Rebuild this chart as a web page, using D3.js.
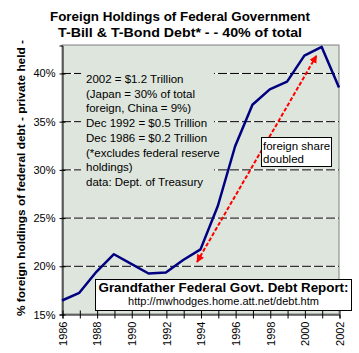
<!DOCTYPE html>
<html>
<head>
<meta charset="utf-8">
<script src="https://cdn.jsdelivr.net/npm/d3@7"></script>
<style>
  body { margin: 0; background: #fff; }
  text { font-family: "Liberation Sans", Arial, sans-serif; }
</style>
</head>
<body>
<div id="main"></div>
<script>
const ctx = {
    W: 359,
    H: 353,
    left: 62,
    right: 339,
    top: 45,
    bottom: 314,
};

// data
const years = [1986, 1987, 1988, 1989, 1990, 1991, 1992, 1993, 1994,
    1995, 1996, 1997, 1998, 1999, 2000, 2001, 2002];
const foreignShare = [16.4, 17.2, 19.4, 21.2, 20.2, 19.2, 19.3, 20.6, 21.7,
    26.2, 32.4, 36.7, 38.3, 39.1, 41.8, 42.7, 38.5];
const yTicks = [15, 20, 25, 30, 35, 40];
const xLabelYears = [1986, 1988, 1990, 1992, 1994, 1996, 1998, 2000, 2002];
// red "doubled" arrow, in data units [year, %]
const arrowTop = [2000.7, 41.8];
const arrowBottom = [1993.8, 20.4];

const titleLines = ["Foreign Holdings of Federal Government",
    "T-Bill & T-Bond Debt* - - 40% of total"];
const noteLines = ["2002 = $1.2 Trillion", "(Japan = 30% of total",
    "foreign, China = 9%)", "Dec 1992 = $0.5 Trillion",
    "Dec 1986 = $0.2 Trillion", "(*excludes federal reserve",
    "holdings)", "data: Dept. of Treasury"];

function createChart() {
    const svg = d3.select("#main").append("svg")
        .attr("width", ctx.W)
        .attr("height", ctx.H);

    const x = d3.scaleLinear().domain([1986, 2002]).range([ctx.left, ctx.right]);
    const y = d3.scaleLinear().domain([15, 42.9]).range([ctx.bottom, ctx.top]);

    const defs = svg.append("defs");
    defs.append("marker")
        .attr("id", "head")
        .attr("viewBox", "0 0 10 10")
        .attr("refX", 9).attr("refY", 5)
        .attr("markerWidth", 4).attr("markerHeight", 4)
        .attr("orient", "auto-start-reverse")
        .append("path")
        .attr("d", "M0,0L10,5L0,10z")
        .attr("fill", "#ff0000");

    // plot area
    svg.append("rect")
        .attr("x", ctx.left).attr("y", ctx.top)
        .attr("width", ctx.right - ctx.left)
        .attr("height", ctx.bottom - ctx.top)
        .attr("fill", "#dde5dc")
        .attr("stroke", "#808080");

    // gridlines: black dashes with white gaps
    const grid = svg.append("g");
    grid.selectAll(".gw")
        .data(yTicks.slice(1))
        .enter().append("line")
        .attr("x1", ctx.left).attr("x2", ctx.right)
        .attr("y1", d => y(d) + 0.5).attr("y2", d => y(d) + 0.5)
        .attr("stroke", "#fff");
    grid.selectAll(".gb")
        .data(yTicks.slice(1))
        .enter().append("line")
        .attr("x1", ctx.left).attr("x2", ctx.right)
        .attr("y1", d => y(d) + 0.5).attr("y2", d => y(d) + 0.5)
        .attr("stroke", "#000")
        .attr("stroke-dasharray", "9,3");

    // note box covers gridlines
    svg.append("rect")
        .attr("x", 81).attr("y", 69)
        .attr("width", 133).attr("height", 122)
        .attr("fill", "#dde5dc");
    svg.append("g").selectAll("text")
        .data(noteLines)
        .enter().append("text")
        .attr("x", 86)
        .attr("y", (d, i) => 83 + i * 14.7)
        .attr("font-size", "11.5px")
        .text(d => d);

    // y axis
    const yAxis = d3.axisLeft(y).tickValues(yTicks)
        .tickFormat(d => d + "%").tickSize(3).tickPadding(4);
    const gy = svg.append("g")
        .attr("transform", `translate(${ctx.left + 0.5},0.5)`)
        .call(yAxis);
    gy.select(".domain").attr("stroke", "#000");
    gy.selectAll(".tick line").attr("x2", -3).attr("x1", 3);
    gy.selectAll("text").attr("font-size", "11px")
        .attr("font-family", "Liberation Sans, Arial, sans-serif");

    // x axis
    const xAxis = d3.axisBottom(x).tickValues(years).tickSize(4)
        .tickFormat(d => xLabelYears.includes(d) ? d : "");
    const gx = svg.append("g")
        .attr("transform", `translate(0.5,${ctx.bottom + 0.5})`)
        .call(xAxis);
    gx.select(".domain").attr("stroke", "#000");
    gx.selectAll(".tick line").attr("y1", -4).attr("y2", 4);
    gx.selectAll("text")
        .attr("font-size", "11px")
        .attr("font-family", "Liberation Sans, Arial, sans-serif")
        .attr("transform", "rotate(-90)")
        .attr("text-anchor", "end")
        .attr("x", -7).attr("y", 0).attr("dy", "0.35em");

    // data line
    const line = d3.line()
        .x((d, i) => x(years[i]))
        .y(d => y(d));
    svg.append("path")
        .datum(foreignShare)
        .attr("d", line)
        .attr("fill", "none")
        .attr("stroke", "#000080")
        .attr("stroke-width", 2.5)
        .attr("stroke-linejoin", "round");

    // red arrow
    svg.append("line")
        .attr("x1", x(arrowBottom[0])).attr("y1", y(arrowBottom[1]))
        .attr("x2", x(arrowTop[0])).attr("y2", y(arrowTop[1]))
        .attr("stroke", "#ff0000")
        .attr("stroke-width", 2)
        .attr("stroke-dasharray", "4,2")
        .attr("marker-start", "url(#head)")
        .attr("marker-end", "url(#head)");

    // "foreign share doubled" label
    svg.append("rect")
        .attr("x", 261.5).attr("y", 137.5)
        .attr("width", 70).attr("height", 29)
        .attr("fill", "#fff").attr("stroke", "#000");
    svg.append("text").attr("x", 263).attr("y", 150)
        .attr("font-size", "11.5px").text("foreign share");
    svg.append("text").attr("x", 263).attr("y", 163)
        .attr("font-size", "11.5px").text("doubled");

    // report box
    svg.append("rect")
        .attr("x", 95.5).attr("y", 279.5)
        .attr("width", 256).attr("height", 31)
        .attr("fill", "#fff").attr("stroke", "#000");
    svg.append("text").attr("x", 223.5).attr("y", 292)
        .attr("text-anchor", "middle")
        .attr("font-size", "13px").attr("font-weight", "bold")
        .attr("textLength", 250).attr("lengthAdjust", "spacingAndGlyphs")
        .text("Grandfather Federal Govt. Debt Report:");
    svg.append("text").attr("x", 223.5).attr("y", 305)
        .attr("text-anchor", "middle")
        .attr("font-size", "11px")
        .text("http://mwhodges.home.att.net/debt.htm");

    // title
    svg.selectAll(".title")
        .data(titleLines)
        .enter().append("text")
        .attr("x", 180)
        .attr("y", (d, i) => 21 + i * 16)
        .attr("text-anchor", "middle")
        .attr("font-size", "13px")
        .attr("font-weight", "bold")
        .attr("textLength", (d, i) => i === 0 ? 260 : 244)
        .attr("lengthAdjust", "spacingAndGlyphs")
        .text(d => d);

    // y axis title
    svg.append("text")
        .attr("transform", "translate(25,178) rotate(-90)")
        .attr("text-anchor", "middle")
        .attr("font-size", "11px")
        .attr("font-weight", "bold")
        .attr("textLength", 276)
        .attr("lengthAdjust", "spacingAndGlyphs")
        .text("% foreign holdings of federal debt - private held -");
}

createChart();
</script>
</body>
</html>
